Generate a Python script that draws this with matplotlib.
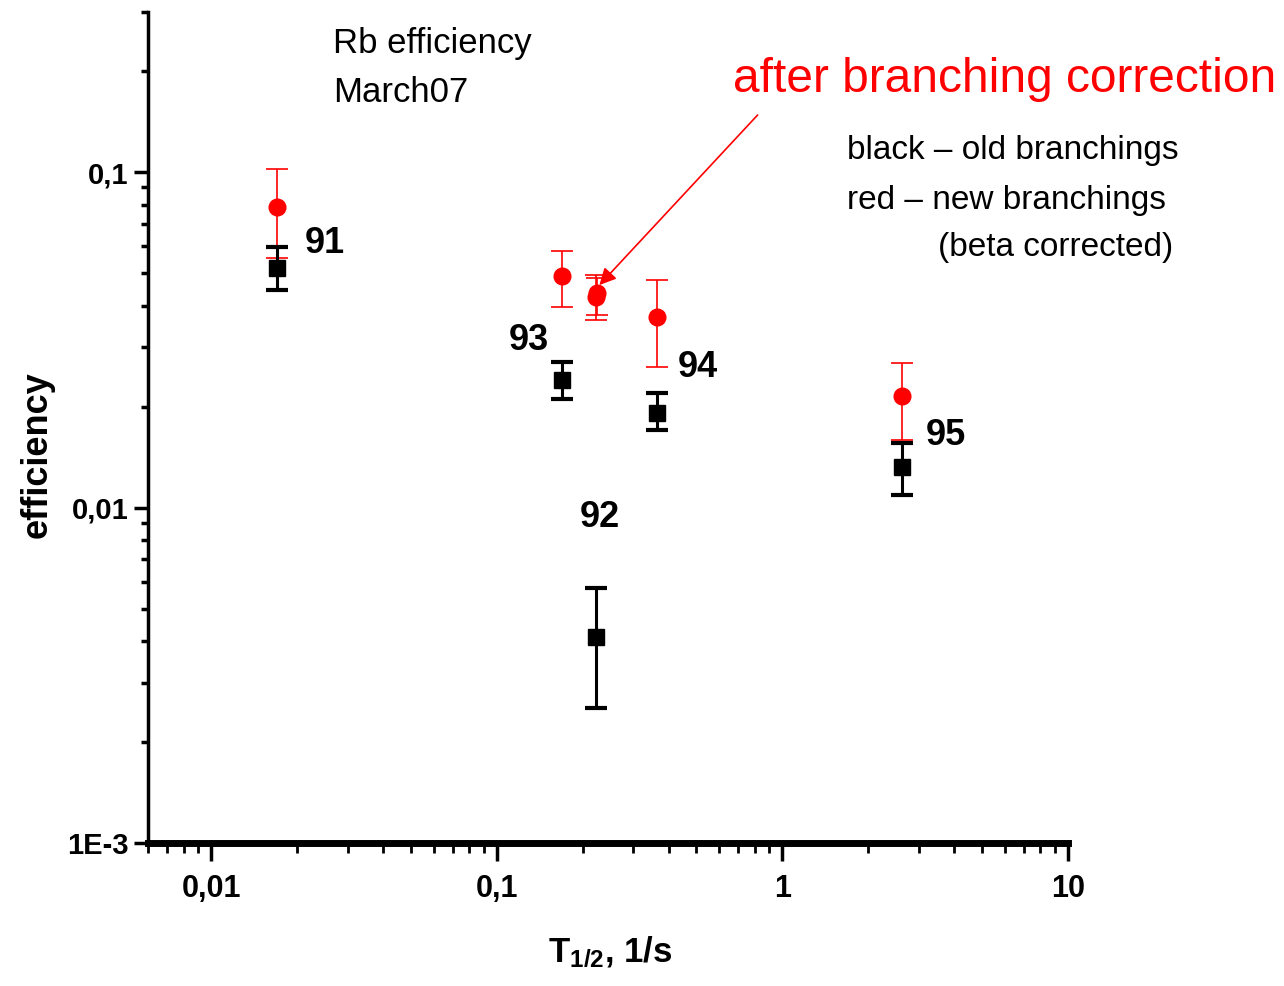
import matplotlib.pyplot as plt
import numpy as np
from matplotlib.ticker import FixedLocator, LogLocator, NullFormatter

plt.rcParams["font.family"] = ["Liberation Sans", "DejaVu Sans"]
plt.rcParams["mathtext.fontset"] = "custom"
plt.rcParams["mathtext.rm"] = "Liberation Sans"
plt.rcParams["mathtext.bf"] = "Liberation Sans:bold"
plt.rcParams["mathtext.it"] = "Liberation Sans:italic"

# old branchings (black squares)
old_rate = [0.0170, 0.169, 0.222, 0.365, 2.63]
old_eff = [0.0518, 0.0240, 0.00411, 0.0191, 0.0132]
old_lo = [0.0445, 0.0210, 0.00252, 0.0170, 0.0109]
old_hi = [0.0598, 0.0272, 0.00575, 0.0219, 0.0156]
isotopes = ["91", "93", "92", "94", "95"]
label_offsets = [(48, 24), (-33, 39), (4, 120), (40, 46), (44, 32)]  # pixels

# new branchings, beta corrected (red circles)
new_rate = [0.0170, 0.169, 0.2215, 0.2235, 0.365, 2.63]
new_eff = [0.0787, 0.0490, 0.0425, 0.0435, 0.0370, 0.0215]
new_lo = [0.0555, 0.0397, 0.0363, 0.0375, 0.0262, 0.0159]
new_hi = [0.102, 0.0582, 0.0492, 0.0482, 0.0476, 0.0270]

xtick_vals = [0.01, 0.1, 1, 10]
xtick_labels = ["0,01", "0,1", "1", "10"]
ytick_vals = [0.001, 0.01, 0.1]
ytick_labels = ["1E-3", "0,01", "0,1"]

fig = plt.figure(figsize=(12.84, 9.86), dpi=100)
ax = fig.add_axes([148 / 1284, 143 / 986, 920 / 1284, 831 / 986])
ax.set_xscale("log")
ax.set_yscale("log")
ax.set_xlim(0.006, 10)
ax.set_ylim(0.001, 0.3)

for s in ["top", "right"]:
    ax.spines[s].set_visible(False)
ax.spines["left"].set_linewidth(2.5)
ax.spines["bottom"].set_linewidth(5)

# error bars
old_err = [np.array(old_eff) - np.array(old_lo), np.array(old_hi) - np.array(old_eff)]
new_err = [np.array(new_eff) - np.array(new_lo), np.array(new_hi) - np.array(new_eff)]
ax.errorbar(new_rate, new_eff, yerr=new_err, fmt="o", color="red", ecolor="red",
            ms=12, elinewidth=1.2, capsize=8, capthick=1.2, zorder=3)
ax.errorbar(old_rate, old_eff, yerr=old_err, fmt="s", color="black", ecolor="black",
            ms=11.5, elinewidth=2.2, capsize=8, capthick=3, zorder=4)

for xr, yv, lab, off in zip(old_rate, old_eff, isotopes, label_offsets):
    ax.annotate(lab, xy=(xr, yv), xytext=off, textcoords="offset pixels",
                ha="center", va="center", fontsize=26, fontweight="bold")

# ticks
ax.xaxis.set_major_locator(FixedLocator(xtick_vals))
ax.set_xticklabels(xtick_labels)
ax.yaxis.set_major_locator(FixedLocator(ytick_vals))
ax.set_yticklabels(ytick_labels)
ax.xaxis.set_minor_locator(LogLocator(base=10, subs=np.arange(2, 10)))
ax.yaxis.set_minor_locator(LogLocator(base=10, subs=np.arange(2, 10)))
ax.xaxis.set_minor_formatter(NullFormatter())
ax.yaxis.set_minor_formatter(NullFormatter())
ax.tick_params(axis="x", which="major", direction="out", length=13, width=2.5, pad=9,
               labelsize=22)
ax.tick_params(axis="x", which="minor", direction="out", length=7, width=2)
ax.tick_params(axis="y", which="major", direction="out", length=10, width=2.5, pad=4,
               labelsize=21)
ax.tick_params(axis="y", which="minor", direction="out", length=5, width=2.5)
for t in ax.get_xticklabels() + ax.get_yticklabels():
    t.set_fontweight("bold")

# arrow to the corrected point
ax.annotate("", xy=(0.225, 0.0454), xytext=(0.831, 0.150),
            arrowprops=dict(arrowstyle="-|>", color="red", lw=1.2, mutation_scale=25))

# texts
fig.text(333 / 1284, 1 - 43 / 986, "Rb efficiency", fontsize=25, va="center", ha="left")
fig.text(333 / 1284, 1 - 93 / 986, "March07", fontsize=25, va="center", ha="left")
fig.text(733 / 1284, 1 - 80 / 986, "after branching correction", color="red",
         fontsize=34.5, va="center", ha="left")
fig.text(847 / 1284, 1 - 150 / 986, "black – old branchings", fontsize=24, va="center")
fig.text(847 / 1284, 1 - 200 / 986, "red – new branchings", fontsize=24, va="center")
fig.text(938 / 1284, 1 - 248 / 986, "(beta corrected)", fontsize=24, va="center")

fig.text(37 / 1284, 1 - 455 / 986, "efficiency", rotation=90, fontsize=26,
         fontweight="bold", ha="center", va="center")
fig.text(610 / 1284, 1 - 952 / 986, r"T$_{\mathbf{1/2}}$, 1/s", fontsize=25,
         fontweight="bold", ha="center", va="center")

fig.savefig("out.png", dpi=100)
